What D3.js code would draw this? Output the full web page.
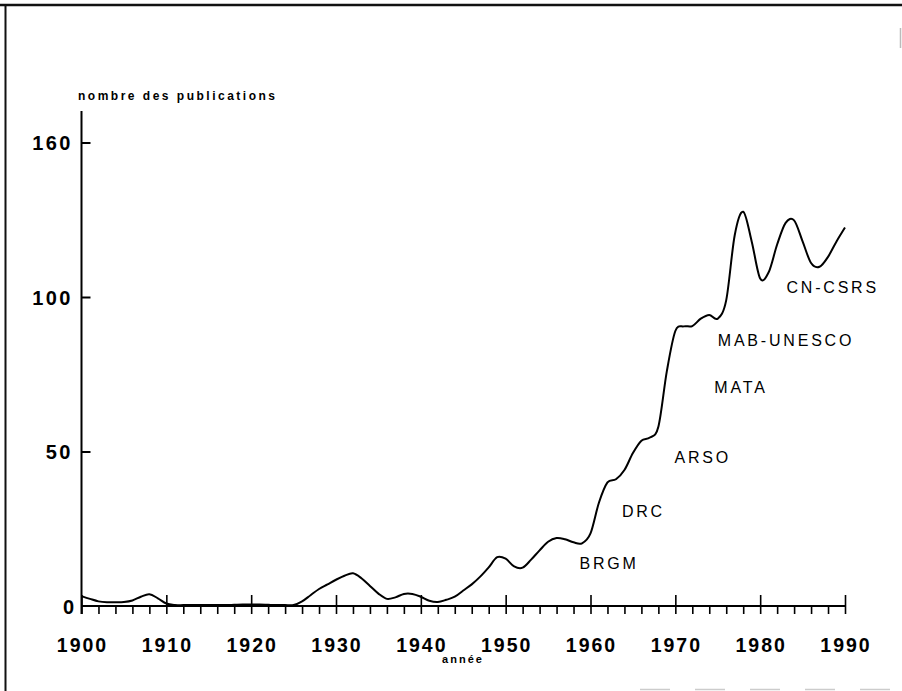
<!DOCTYPE html>
<html><head><meta charset="utf-8">
<script src="https://cdn.jsdelivr.net/npm/d3@7"></script>
<style>
html,body{margin:0;padding:0;background:#fff;}
svg{display:block;}
</style></head>
<body>
<script>
const years = d3.range(1900, 1991);
const publications = [
  3.2, 2.3, 1.5, 1.2, 1.2, 1.3, 1.8, 3.0, 3.8, 2.5,
  0.8, 0.3, 0.3, 0.3, 0.3, 0.3, 0.3, 0.3, 0.4, 0.5,
  0.5, 0.5, 0.4, 0.3, 0.3, 0.3, 1.5, 3.5, 5.5, 7.0,
  8.5, 9.8, 10.6, 9.0, 6.5, 4.0, 2.3, 2.8, 3.9, 3.9,
  3.0, 1.7, 1.3, 2.0, 3.0, 5.0, 7.0, 9.5, 12.5, 15.8,
  15.3, 12.8, 12.4, 15.0, 18.0, 20.8, 22.0, 21.6, 20.6, 20.3,
  23.5, 33.5, 40.0, 41.0, 44.0, 49.5, 53.5, 54.5, 58.0, 76.0,
  89.0, 90.5, 90.6, 93.0, 94.2, 93.0, 99.0, 120.0, 127.6, 118.0,
  106.0, 108.0, 117.0, 124.0, 124.8, 118.0, 111.0, 109.8, 113.0, 118.0,
  122.5
];
const yTickValues = [50, 100, 150];
const yTickLabels = ["50", "100", "160"];
const yZeroLabel = "0";
const xMajorTicks = d3.range(1900, 1991, 10);
const xMinorTicks = d3.range(1900, 1991, 2);
const annotations = ["BRGM", "DRC", "ARSO", "MATA", "MAB-UNESCO", "CN-CSRS"];
const annotationYears = [1958.7, 1963.7, 1969.9, 1974.6, 1975.0, 1983.1];
const annotationValues = [12.0, 28.8, 46.4, 69.0, 84.1, 101.4];
const yTitle = "nombre des publications";
const xTitle = "année";

const W = 902, H = 691;
const svg = d3.select("body").append("svg").attr("width", W).attr("height", H);

// frame
svg.append("line").attr("x1", 0).attr("x2", W).attr("y1", 5).attr("y2", 5)
  .attr("stroke", "#111").attr("stroke-width", 2.5);
svg.append("line").attr("x1", 5.5).attr("x2", 5.5).attr("y1", 5).attr("y2", H)
  .attr("stroke", "#111").attr("stroke-width", 2);
svg.append("line").attr("x1", 900.5).attr("x2", 900.5).attr("y1", 28).attr("y2", 48)
  .attr("stroke", "#bbb").attr("stroke-width", 1.5);
svg.append("line").attr("x1", 640).attr("x2", W).attr("y1", 689.5).attr("y2", 689.5)
  .attr("stroke", "#ccc").attr("stroke-width", 1.5).attr("stroke-dasharray", "30,25");

const x = d3.scaleLinear().domain([1900, 1990]).range([81.5, 845]);
const y = d3.scaleLinear().domain([0, 150]).range([606, 142.5]);

const bold = "'Liberation Sans', Arial, sans-serif";

// y axis
const yAxis = svg.append("g").attr("transform", `translate(${x(1900)},0)`)
  .call(d3.axisRight(y).tickValues(yTickValues).tickSize(9)
    .tickFormat((d, i) => ""));
yAxis.select(".domain").remove();
yAxis.selectAll(".tick line").attr("stroke", "#000").attr("stroke-width", 2);
svg.append("line").attr("x1", x(1900)).attr("x2", x(1900))
  .attr("y1", 111).attr("y2", y(0) + 8)
  .attr("stroke", "#000").attr("stroke-width", 2);
svg.selectAll("text.ylab").data(yTickValues).join("text").attr("class", "ylab")
  .attr("x", 73).attr("y", d => y(d) + 7.5)
  .attr("text-anchor", "end")
  .attr("font-family", bold).attr("font-weight", "bold").attr("font-size", 20)
  .attr("letter-spacing", 2.5)
  .text((d, i) => yTickLabels[i]);
svg.append("text").attr("x", 74).attr("y", y(0) + 7.5).attr("text-anchor", "end")
  .attr("font-family", bold).attr("font-weight", "bold").attr("font-size", 20)
  .text(yZeroLabel);

// x axis
svg.append("line").attr("x1", x(1900)).attr("x2", x(1990))
  .attr("y1", y(0)).attr("y2", y(0)).attr("stroke", "#000").attr("stroke-width", 2);
const xMinor = svg.append("g").attr("transform", `translate(0,${y(0)})`)
  .call(d3.axisBottom(x).tickValues(xMinorTicks).tickSize(8).tickFormat(""));
xMinor.select(".domain").remove();
xMinor.selectAll(".tick line").attr("stroke", "#000").attr("stroke-width", 1.6);
const xMajor = svg.append("g").attr("transform", `translate(0,${y(0)})`)
  .call(d3.axisTop(x).tickValues(xMajorTicks).tickSize(11).tickFormat(""));
xMajor.select(".domain").remove();
xMajor.selectAll(".tick line").attr("stroke", "#000").attr("stroke-width", 1.6);
svg.selectAll("text.xlab").data(xMajorTicks).join("text").attr("class", "xlab")
  .attr("x", d => x(d) + 1).attr("y", 652)
  .attr("text-anchor", "middle")
  .attr("font-family", bold).attr("font-weight", "bold").attr("font-size", 19.5)
  .attr("letter-spacing", 2)
  .text(d => d);

// titles
svg.append("text").attr("x", 78).attr("y", 100)
  .attr("font-family", bold).attr("font-weight", "bold").attr("font-size", 12)
  .attr("letter-spacing", 2.5)
  .text(yTitle);
svg.append("text").attr("x", 463).attr("y", 663).attr("text-anchor", "middle")
  .attr("font-family", bold).attr("font-weight", "bold").attr("font-size", 11)
  .attr("letter-spacing", 2)
  .text(xTitle);

// curve
const line = d3.line()
  .x((d, i) => x(years[i]))
  .y(d => y(d))
  .curve(d3.curveCardinal.tension(0));
svg.append("path").attr("d", line(publications))
  .attr("fill", "none").attr("stroke", "#000").attr("stroke-width", 2)
  .attr("stroke-linejoin", "round");

// annotations
svg.selectAll("text.ann").data(annotations).join("text").attr("class", "ann")
  .attr("x", (d, i) => x(annotationYears[i])).attr("y", (d, i) => y(annotationValues[i]))
  .attr("font-family", "'Liberation Sans', Arial, sans-serif")
  .attr("font-size", 16).attr("letter-spacing", 2.8)
  .text(d => d);
</script>
</body></html>
